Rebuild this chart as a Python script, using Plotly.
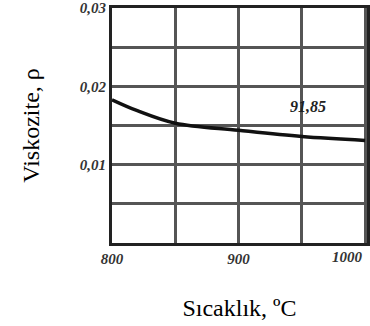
import plotly.graph_objects as go

temps = [800, 820, 850, 900, 950, 1000]
visc = [0.0183, 0.0169, 0.0153, 0.0144, 0.0136, 0.0131]

x_tickvals = [800, 900, 1000]
x_ticktext = ["800", "900", "1000"]
y_tickvals = [0.01, 0.02, 0.03]
y_ticktext = ["0,01", "0,02", "0,03"]

curve_label = "91,85"
curve_label_pos = (955, 0.0174)

fig = go.Figure()
fig.add_trace(go.Scatter(x=temps, y=visc, mode="lines",
                         line=dict(color="#111", width=3.5, shape="spline"),
                         showlegend=False, hoverinfo="skip"))

fig.add_annotation(x=curve_label_pos[0], y=curve_label_pos[1], text=f"<b><i>{curve_label}</i></b>",
                   showarrow=False, font=dict(family="Liberation Serif", size=16, color="#222"))

grid_color = "#555"
tick_font = dict(family="Liberation Serif", size=15, color="#333", weight="bold", style="italic")

# last x tick label sits at the window edge: anchor it on its tick, right-aligned so it stays visible
fig.add_annotation(x=x_tickvals[-1], xref="x", y=0, yref="paper", yanchor="top", yshift=-4,
                   xanchor="center", xshift=-18, text=f"<b><i>{x_ticktext[-1]}</i></b>",
                   showarrow=False, font=tick_font)

fig.update_layout(
    width=370, height=326,
    margin=dict(l=112, r=0, t=7, b=83),
    paper_bgcolor="white", plot_bgcolor="white",
    xaxis=dict(range=[800, 1001.5], showgrid=True, gridcolor=grid_color, gridwidth=2.5,
               zeroline=False, showline=True, linecolor="#222", linewidth=3, mirror=True,
               tickmode="array", tickvals=x_tickvals[:-1], ticktext=x_ticktext[:-1],
               tickfont=tick_font,
               title=dict(text="Sıcaklık, ºC", standoff=34,
                          font=dict(family="Liberation Serif", size=24, color="black"))),
    yaxis=dict(range=[0, 0.03002], showgrid=True, gridcolor=grid_color, gridwidth=2.5,
               zeroline=False, showline=True, linecolor="#222", linewidth=3, mirror=True,
               tickmode="array", tickvals=y_tickvals, ticktext=y_ticktext,
               ticklabeloverflow="allow", tickfont=tick_font,
               title=dict(text="Viskozite, ρ", standoff=34,
                          font=dict(family="Liberation Serif", size=24, color="black"))),
)
fig.update_yaxes(minor=dict(dtick=0.005, tick0=0, showgrid=True, gridcolor=grid_color, gridwidth=2.5))
fig.update_xaxes(minor=dict(dtick=50, tick0=800, showgrid=True, gridcolor=grid_color, gridwidth=2.5))

fig.write_html("out.html")
